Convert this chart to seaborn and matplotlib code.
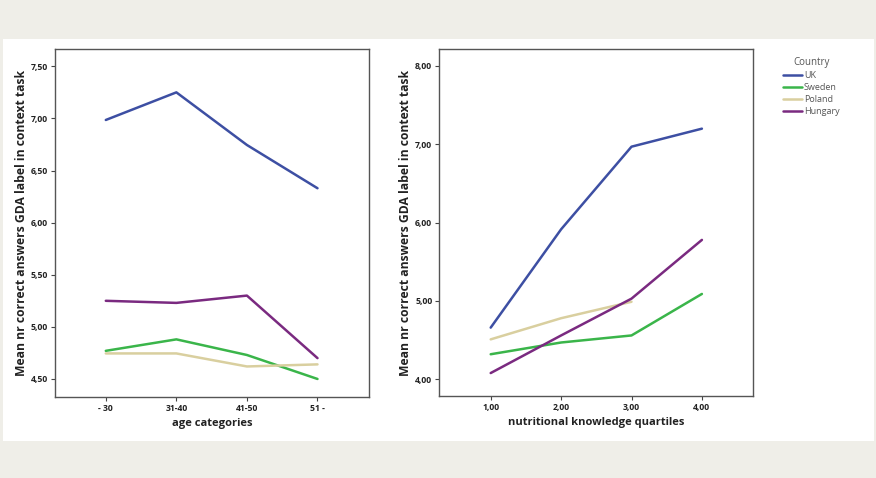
import matplotlib
matplotlib.use("Agg")
import matplotlib.pyplot as plt
import seaborn as sns
import pandas as pd
import numpy as np
from matplotlib.patches import Rectangle

sns.set_theme(style="white")
plt.rcParams['font.family'] = ['Open Sans', 'DejaVu Sans']

countries = ["UK", "Sweden", "Poland", "Hungary"]
age_cats = ["- 30", "31-40", "41-50", "51 -"]
age_uk = [6.985, 7.25, 6.745, 6.33]
age_sweden = [4.77, 4.88, 4.73, 4.50]
age_poland = [4.745, 4.745, 4.62, 4.64]
age_hungary = [5.25, 5.23, 5.30, 4.70]

quartiles = [1.0, 2.0, 3.0, 4.0]
q_uk = [4.66, 5.915, 6.97, 7.20]
q_sweden = [4.32, 4.47, 4.56, 5.09]
q_poland = [4.51, 4.78, 4.99, np.nan]
q_hungary = [4.08, 4.56, 5.03, 5.78]

palette = {"UK": "#3d4fa3", "Sweden": "#3ab54a", "Poland": "#d9cf9f", "Hungary": "#7a2a80"}

rows = []
for c, vals in zip(countries, [age_uk, age_sweden, age_poland, age_hungary]):
    for i, (cat, v) in enumerate(zip(age_cats, vals)):
        rows.append({"pos": i, "age": cat, "value": v, "Country": c})
df_age = pd.DataFrame(rows)

rows = []
for c, vals in zip(countries, [q_uk, q_sweden, q_poland, q_hungary]):
    for q, v in zip(quartiles, vals):
        rows.append({"q": q, "value": v, "Country": c})
df_q = pd.DataFrame(rows).dropna()

W, H = 876, 478
fig = plt.figure(figsize=(W / 100, H / 100), dpi=100)
fig.patch.set_facecolor("#efeee8")
fig.patches.append(Rectangle((3 / W, 1 - 441 / H), 871 / W, 402 / H,
                             transform=fig.transFigure, facecolor="white",
                             edgecolor="none", zorder=-10))

ax1 = fig.add_axes([55 / W, 1 - 397 / H, 314 / W, 348 / H])
ax2 = fig.add_axes([439.3 / W, 1 - 396 / H, 314 / W, 347 / H])

sns.lineplot(data=df_age, x="pos", y="value", hue="Country", hue_order=countries,
             palette=palette, ax=ax1, linewidth=1.8, legend=False, sort=False)
sns.lineplot(data=df_q, x="q", y="value", hue="Country", hue_order=countries,
             palette=palette, ax=ax2, linewidth=1.8, legend=True, sort=False)

ylabel = "Mean nr correct answers GDA label in context task"
ax1.set_xlim(-0.72, 3.73)
ax1.set_ylim(4.327, 7.666)
ax1.set_xticks(range(4))
ax1.set_xticklabels(age_cats)
ax1.set_yticks([4.5, 5.0, 5.5, 6.0, 6.5, 7.0, 7.5])
ax1.set_yticklabels(["4,50", "5,00", "5,50", "6,00", "6,50", "7,00", "7,50"])
ax1.set_xlabel("age categories", fontsize=8, fontweight="bold", color="#222222")
ax1.set_ylabel(ylabel, fontsize=8.7, fontweight="bold", color="#222222")

ax2.set_xlim(0.27, 4.73)
ax2.set_ylim(3.787, 8.217)
ax2.set_xticks(quartiles)
ax2.set_xticklabels(["1,00", "2,00", "3,00", "4,00"])
ax2.set_yticks([4, 5, 6, 7, 8])
ax2.set_yticklabels(["4,00", "5,00", "6,00", "7,00", "8,00"])
ax2.set_xlabel("nutritional knowledge quartiles", fontsize=8, fontweight="bold", color="#222222")
ax2.set_ylabel(ylabel, fontsize=8.7, fontweight="bold", color="#222222")

for ax in (ax1, ax2):
    ax.set_facecolor("white")
    for s in ax.spines.values():
        s.set_color("#555555")
        s.set_linewidth(1.0)
    ax.tick_params(axis="both", which="both", length=3, width=0.8, color="#444444",
                   labelsize=6.2, labelcolor="#222222", pad=2,
                   bottom=True, left=True)
    for lab in ax.get_xticklabels() + ax.get_yticklabels():
        lab.set_fontweight("bold")
    ax.yaxis.set_label_coords(-0.086, 0.5)
    ax.xaxis.set_label_coords(0.5, -0.06)

leg = ax2.get_legend()
handles = leg.legend_handles
labels = [t.get_text() for t in leg.get_texts()]
leg.remove()
leg = fig.legend(handles, labels, title="Country", loc="upper left",
                 bbox_to_anchor=(779.5 / W, 1 - 53 / H), frameon=False,
                 fontsize=6.5, title_fontsize=7, handlelength=2.1,
                 handletextpad=0.2, labelspacing=0.35, borderaxespad=0)
for t in leg.get_texts():
    t.set_color("#555555")
leg.get_title().set_color("#555555")
for h in leg.legend_handles:
    h.set_linewidth(1.8)

fig.savefig("out.png", dpi=100)
